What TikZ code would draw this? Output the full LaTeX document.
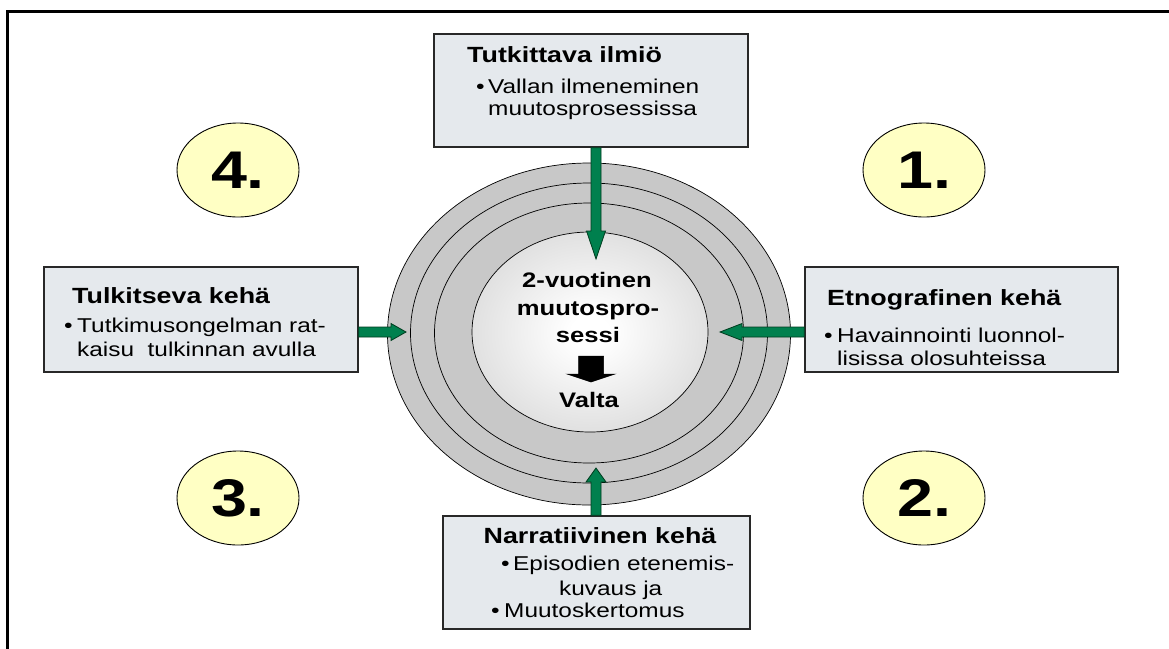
\documentclass[tikz,border=0pt]{standalone}
\usepackage{fontspec}
\setmainfont{Liberation Sans}[FakeStretch=1.22]
\usetikzlibrary{calc,shapes.geometric}

\definecolor{ringgray}{RGB}{200,200,200}
\definecolor{boxfill}{RGB}{229,233,237}
\definecolor{boxline}{RGB}{40,40,40}
\definecolor{arrowgreen}{RGB}{0,128,78}
\definecolor{arrowline}{RGB}{0,60,30}
\definecolor{numfill}{RGB}{255,255,196}

\pgfdeclareradialshading{coreglow}{\pgfpoint{0bp}{0bp}}{%
  color(0bp)=(white); color(4bp)=(white); color(42bp)=(ringgray); color(72bp)=(ringgray)}

% block arrow: style, from, to, shaft half-width, head half-width, head length
\newcommand\blockarrow[6]{%
  \filldraw[#1] let \p1=(#2), \p2=(#3),
      \n1={veclen(\x2-\x1,\y2-\y1)}, \n2={atan2(\y2-\y1,\x2-\x1)} in
    [shift={(\p1)}, rotate=\n2]
    (0pt,-#4) -- (\n1-#6,-#4) -- (\n1-#6,-#5) -- (\n1,0pt)
    -- (\n1-#6,#5) -- (\n1-#6,#4) -- (0pt,#4) -- cycle;}

\tikzset{
  infobox/.style={draw=boxline, line width=1.4pt, fill=boxfill, rectangle, inner sep=0pt},
  ring/.style={draw=black, line width=0.7pt, fill=ringgray},
  numball/.style={draw=black, line width=0.9pt, fill=numfill, ellipse, inner sep=0pt},
  boxtitle/.style={font=\fontsize{22}{24}\selectfont\bfseries, inner sep=0pt},
  boxtext/.style={font=\fontsize{20}{22}\selectfont, inner sep=0pt},
  coretext/.style={font=\fontsize{21}{24}\selectfont\bfseries, inner sep=0pt, anchor=base},
  numtext/.style={font=\fontsize{53}{56}\selectfont\bfseries, inner sep=0pt},
  greenarrow/.style={fill=arrowgreen, draw=arrowline, line width=0.8pt, line join=miter},
  blackarrow/.style={fill=black, draw=black, line width=0.5pt},
}

\begin{document}
\begin{tikzpicture}[x=1pt, y=-1pt]
\useasboundingbox (0,0) rectangle (1169,648);

% outer frame (top and left edges)
\draw[line width=3pt] (7.5,650) -- (7.5,11) -- (1172,11);

% concentric rings
\path[ring] (589,334) ellipse [x radius=201.5, y radius=171];
\path[ring] (589,333) ellipse [x radius=178.5, y radius=150];
\path[ring] (589,333) ellipse [x radius=154.5, y radius=130];
\path[draw=black, line width=0.7pt, shading=coreglow] (590,332) ellipse [x radius=118, y radius=100];

% numbered balls
\node[numball, minimum width=122, minimum height=94] (n4) at (238,170) {};
\node[numball, minimum width=122, minimum height=94] (n1) at (924,170) {};
\node[numball, minimum width=122, minimum height=94] (n3) at (238,498) {};
\node[numball, minimum width=122, minimum height=94] (n2) at (924,498) {};
\node[numtext] (n4t) at (n4) {4.};
\node[numtext] (n1t) at (n1) {1.};
\node[numtext] (n3t) at (n3) {3.};
\node[numtext] (n2t) at (n2) {2.};

% info boxes
\node[infobox, minimum width=314, minimum height=113] (tb) at (591,90.5) {};
\node[infobox, minimum width=314, minimum height=105] (lb) at (201,319.5) {};
\node[infobox, minimum width=313, minimum height=105] (rb) at (961.5,319.5) {};
\node[infobox, minimum width=307, minimum height=113] (bb) at (596.5,572.5) {};

% top box text
\node[boxtitle, anchor=base west] (tbt) at (467,62) {Tutkittava ilmiö};
\node[boxtext, anchor=base west] (tbb) at (476,93) {•};
\node[boxtext, anchor=base west] (tb1) at (488,93) {Vallan ilmeneminen};
\node[boxtext, anchor=base west] (tb2) at (488,115) {muutosprosessissa};

% left box text
\node[boxtitle, anchor=base west] (lbt) at (72,303) {Tulkitseva kehä};
\node[boxtext, anchor=base west] (lbb) at (64,332) {•};
\node[boxtext, anchor=base west] (lb1) at (77,332) {Tutkimusongelman rat-};
\node[boxtext, anchor=base west] (lb2) at (77,356) {kaisu\ \ tulkinnan avulla};

% right box text
\node[boxtitle, anchor=base west] (rbt) at (827,305) {Etnografinen kehä};
\node[boxtext, anchor=base west] (rbb) at (824,342) {•};
\node[boxtext, anchor=base west] (rb1) at (837,342) {Havainnointi luonnol-};
\node[boxtext, anchor=base west] (rb2) at (837,365) {lisissa olosuhteissa};

% bottom box text
\node[boxtitle, anchor=base] (bbt) at (600,543) {Narratiivinen kehä};
\node[boxtext, anchor=base west] (bbb1) at (501,570) {•};
\node[boxtext, anchor=base west] (bb1) at (513,570) {Episodien etenemis-};
\node[boxtext, anchor=base west] (bb2) at (559,595) {kuvaus ja};
\node[boxtext, anchor=base west] (bbb2) at (491,617) {•};
\node[boxtext, anchor=base west] (bb3) at (504,617) {Muutoskertomus};

% core text
\node[coretext] (c1) at (587,287) {2-vuotinen};
\node[coretext] (c2) at (588,315) {muutospro-};
\node[coretext] (c3) at (588,342) {sessi};
\node[coretext] (c4) at (589,407) {Valta};

% arrow tips inside the rings
\coordinate (ttip) at (596,259);
\coordinate (ltip) at (406,332);
\coordinate (rtip) at (720,332);
\coordinate (btip) at (596,468);
\coordinate (kfrom) at (591,356);
\coordinate (kto) at (591,382);

% green connectors from the boxes into the rings
\blockarrow{greenarrow}{tb.south -| ttip}{ttip}{5pt}{9.5pt}{28pt}
\blockarrow{greenarrow}{lb.east |- ltip}{ltip}{5pt}{8.5pt}{15pt}
\blockarrow{greenarrow}{rb.west |- rtip}{rtip}{5pt}{8.5pt}{22pt}
\blockarrow{greenarrow}{bb.north -| btip}{btip}{5pt}{10pt}{14pt}

% black arrow from the process to power
\blockarrow{blackarrow}{kfrom}{kto}{12.5pt}{24pt}{8pt}
\end{tikzpicture}
\end{document}
